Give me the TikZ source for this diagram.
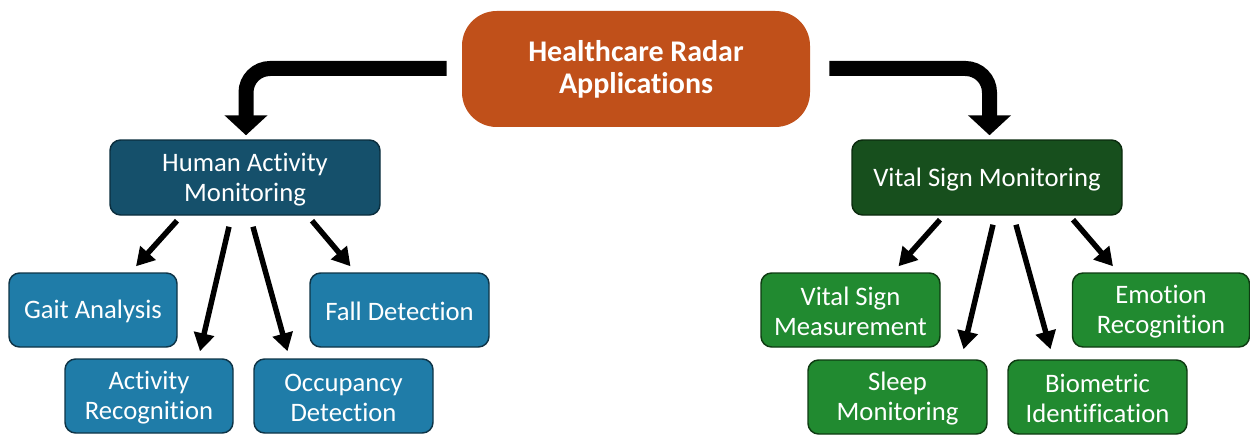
\documentclass[tikz,border=0pt]{standalone}
\usepackage{fontspec}
\setmainfont{Carlito}[Ligatures=NoCommon]
\usetikzlibrary{arrows.meta,calc}

\definecolor{rootfill}{HTML}{C0501A}
\definecolor{hamfill}{HTML}{15506B}
\definecolor{hamline}{HTML}{0B2E3E}
\definecolor{hamchild}{HTML}{1F7CA8}
\definecolor{hamchildline}{HTML}{0E3447}
\definecolor{vsmfill}{HTML}{174F1D}
\definecolor{vsmline}{HTML}{0B2B0E}
\definecolor{vsmchild}{HTML}{218A30}
\definecolor{vsmchildline}{HTML}{0E3B12}

% taller first line so the text sits a little lower in its box
\newcommand\toppad{\rule{0pt}{16.5pt}}

\tikzset{
  rootbox/.style={rectangle, rounded corners=26pt, fill=rootfill, text=white,
    align=center, font=\bfseries\fontsize{22.5}{24}\selectfont,
    minimum width=261pt, minimum height=87pt, inner sep=0pt},
  catbox/.style={rectangle, rounded corners=8pt, draw=#1, line width=1.1pt,
    text=white, align=center, font=\fontsize{20}{22.5}\selectfont,
    minimum width=202.5pt, minimum height=56.25pt, inner sep=0pt},
  leafbox/.style={rectangle, rounded corners=8pt, draw=#1, line width=1.1pt,
    text=white, align=center, font=\fontsize{20}{22.5}\selectfont,
    minimum height=55.5pt, inner sep=0pt},
  bigarrow/.style={line width=11.25pt, rounded corners=18pt,
    -{Triangle[width=31.5pt, length=15pt]}},
  smallarrow/.style={line width=4.1pt,
    -{Triangle[width=15pt, length=13.5pt]}}
}

\begin{document}
\begin{tikzpicture}[x=0.75pt, y=-0.75pt]
  \useasboundingbox (0,0) rectangle (1250,435);

  % root
  \node[rootbox] (root) at (636,69) {Healthcare Radar\\Applications};

  % categories
  \node[catbox=hamline, fill=hamfill] (ham) at (245,177.5) {\toppad Human Activity\\Monitoring};
  \node[catbox=vsmline, fill=vsmfill] (vsm) at (987,177.5) {\toppad Vital Sign Monitoring};

  % activity applications
  \node[leafbox=hamchildline, fill=hamchild, minimum width=126pt] (gait) at (93,310) {\toppad Gait Analysis};
  \node[leafbox=hamchildline, fill=hamchild, minimum width=134.25pt] (fall) at (399.5,310) {\toppad Fall Detection};
  \node[leafbox=hamchildline, fill=hamchild, minimum width=126pt] (act) at (149,396) {\toppad Activity\\Recognition};
  \node[leafbox=hamchildline, fill=hamchild, minimum width=134.25pt] (occ) at (343.5,396) {\toppad Occupancy\\Detection};

  % vital sign applications
  \node[leafbox=vsmchildline, fill=vsmchild, minimum width=134.25pt] (meas) at (850.5,310) {\toppad Vital Sign\\Measurement};
  \node[leafbox=vsmchildline, fill=vsmchild, minimum width=132.75pt] (emo) at (1161,310) {\toppad Emotion\\Recognition};
  \node[leafbox=vsmchildline, fill=vsmchild, minimum width=134.25pt] (sleep) at (897.5,397) {\toppad Sleep\\Monitoring};
  \node[leafbox=vsmchildline, fill=vsmchild, minimum width=134.25pt] (bio) at (1097.5,397) {\toppad Biometric\\Identification};

  % elbow arrows from the root
  \draw[bigarrow] ($(root.west)+(-15,-0.5)$) -| ($(ham.north)+(1,-4)$);
  \draw[bigarrow] ($(root.east)+(19,-0.5)$) -| ($(vsm.north)+(2.5,-4)$);

  % activity branch
  \draw[smallarrow] ($(ham.south)+(-68,5)$) -- ($(gait.north)+(43,-6)$);
  \draw[smallarrow] ($(ham.south)+(-16,11)$) -- ($(act.north)+(51,-7)$);
  \draw[smallarrow] ($(ham.south)+(8,11)$) -- ($(occ.north)+(-56,-7)$);
  \draw[smallarrow] ($(ham.south)+(67,5)$) -- ($(fall.north)+(-49,-6)$);

  % vital sign branch
  \draw[smallarrow] ($(vsm.south)+(-47,4)$) -- ($(meas.north)+(48,-6)$);
  \draw[smallarrow] ($(vsm.south)+(6,9)$) -- ($(sleep.north)+(66,-10)$);
  \draw[smallarrow] ($(vsm.south)+(29,9)$) -- ($(bio.north)+(-47,-10)$);
  \draw[smallarrow] ($(vsm.south)+(86,4)$) -- ($(emo.north)+(-48,-6)$);
\end{tikzpicture}
\end{document}
